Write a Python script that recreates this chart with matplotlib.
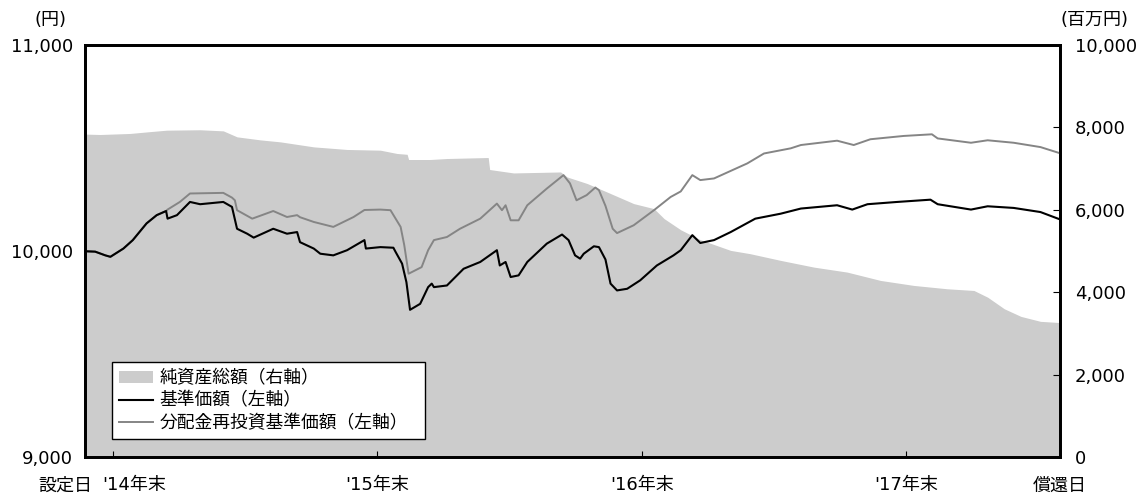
import matplotlib
matplotlib.use("Agg")
import matplotlib.pyplot as plt
import pandas as pd
from matplotlib.patches import Patch
from matplotlib.lines import Line2D
from matplotlib.transforms import blended_transform_factory, offset_copy

plt.rcParams['font.family'] = ['DejaVu Sans', 'Noto Sans CJK JP']

# 設定日・償還日
start = pd.Timestamp("2014-11-21")
end = pd.Timestamp("2018-07-30")

# 基準価額（円）: 設定日からの経過日数と値
nav_days = [0, 14, 28, 35, 53, 66, 85, 99, 112, 114, 127, 145, 159, 191, 203, 210,
            224, 233, 260, 279, 293, 297, 316, 325, 343, 362, 386, 388, 408, 426,
            429, 438, 444, 449, 463, 474, 479, 482, 500, 523, 546, 569, 573, 581,
            588, 599, 611, 638, 659, 668, 677, 684, 689, 703, 710, 719, 726, 735,
            749, 767, 790, 813, 823, 839, 850, 869, 892, 926, 961, 989, 1039, 1060,
            1081, 1122, 1168, 1178, 1224, 1247, 1283, 1320, 1348]
nav = [10000, 9998, 9980, 9973, 10013, 10054, 10135, 10175, 10195, 10158, 10175,
       10239, 10228, 10239, 10215, 10109, 10085, 10066, 10109, 10085, 10093, 10044,
       10013, 9988, 9980, 10005, 10054, 10013, 10020, 10017, 9997, 9940, 9850, 9716,
       9745, 9826, 9843, 9826, 9834, 9915, 9948, 10005, 9931, 9948, 9875, 9883,
       9948, 10037, 10081, 10054, 9980, 9964, 9988, 10024, 10020, 9960, 9843, 9810,
       9818, 9859, 9931, 9980, 10005, 10078, 10040, 10054, 10093, 10158, 10182,
       10207, 10223, 10202, 10228, 10239, 10250, 10228, 10202, 10218, 10210, 10190,
       10153]

# 分配金再投資基準価額（円）
re_days = [0, 14, 28, 35, 53, 66, 85, 99, 112, 114, 131, 145, 191, 203, 207, 210,
           231, 260, 279, 293, 297, 316, 343, 371, 386, 408, 422, 436, 441, 447,
           465, 474, 482, 500, 518, 546, 569, 576, 581, 588, 599, 611, 638, 661,
           670, 679, 693, 705, 710, 719, 729, 735, 758, 786, 809, 823, 839, 850,
           869, 915, 938, 975, 989, 1039, 1062, 1085, 1131, 1170, 1178, 1224, 1247,
           1283, 1320, 1348]
reinvest = [10000, 9998, 9980, 9973, 10013, 10054, 10135, 10175, 10195, 10202,
            10239, 10280, 10283, 10260, 10247, 10199, 10158, 10195, 10166, 10175,
            10165, 10142, 10118, 10166, 10200, 10202, 10199, 10118, 10030, 9891,
            9923, 10005, 10054, 10069, 10109, 10158, 10231, 10199, 10223, 10150,
            10150, 10223, 10304, 10369, 10329, 10247, 10272, 10309, 10296, 10220,
            10109, 10088, 10126, 10199, 10263, 10290, 10369, 10345, 10353, 10426,
            10474, 10499, 10515, 10536, 10515, 10543, 10559, 10567, 10547, 10526,
            10538, 10526, 10505, 10474]

# 純資産総額（百万円）
asset_days = [0, 21, 62, 90, 113, 159, 191, 210, 242, 270, 316, 362, 408, 431, 445,
              447, 477, 500, 557, 559, 592, 657, 666, 694, 721, 758, 786, 800, 823,
              850, 892, 919, 961, 1007, 1053, 1099, 1145, 1191, 1228, 1247, 1270,
              1293, 1320, 1348]
assets = [7840, 7830, 7855, 7900, 7935, 7945, 7918, 7773, 7700, 7651, 7530, 7467,
          7450, 7370, 7350, 7224, 7224, 7248, 7272, 6981, 6898, 6922, 6801, 6640,
          6437, 6155, 6033, 5791, 5520, 5280, 5020, 4940, 4778, 4615, 4494, 4292,
          4171, 4090, 4049, 3886, 3605, 3420, 3300, 3270]

year_ends = pd.to_datetime(["2014-12-30", "2015-12-30", "2016-12-30", "2017-12-29"])
x_labels = ["設定日", "'14年末", "'15年末", "'16年末", "'17年末", "償還日"]
left_ticks = [9000, 10000, 11000]
right_ticks = [0, 2000, 4000, 6000, 8000, 10000]

nav_x = start + pd.to_timedelta(nav_days, unit="D")
re_x = start + pd.to_timedelta(re_days, unit="D")
asset_x = start + pd.to_timedelta(asset_days, unit="D")

fig = plt.figure(figsize=(11.43, 4.95), dpi=100)
ax = fig.add_axes([0.0744, 0.0758, 0.853, 0.8333])
ax2 = ax.twinx()

ax2.fill_between(asset_x, assets, 0, color="#cccccc", lw=0)
ax2.set_ylim(0, 10000)
ax2.set_yticks(right_ticks)
ax2.set_yticklabels([f"{v:,}" for v in right_ticks])

ax.set_zorder(ax2.get_zorder() + 1)
ax.patch.set_visible(False)
ax.plot(re_x, reinvest, color="#858585", lw=1.4)
ax.plot(nav_x, nav, color="black", lw=1.5)
ax.set_ylim(9000, 11000)
ax.set_yticks(left_ticks)
ax.set_yticklabels([f"{v:,}" for v in left_ticks])
ax.set_xlim(start, end)

for a in (ax, ax2):
    for s in a.spines.values():
        s.set_linewidth(2.0)
ax.tick_params(axis="y", direction="in", length=5, width=0.8, pad=8.5, labelsize=13)
ax2.tick_params(axis="y", direction="in", length=5, width=0.8, pad=10.5, labelsize=13)
ax.set_xticks(year_ends)
ax.set_xticklabels([])
ax.tick_params(axis="x", direction="in", length=4, width=0.8)

# x軸の文字
tr = offset_copy(blended_transform_factory(ax.transData, ax.transAxes),
                 fig=fig, x=0, y=-28, units="dots")
label_x = [start, year_ends[0], year_ends[1], year_ends[2], year_ends[3], end]
shift = [-20, 21, 0, 0, 0, 0]
for xv, txt, dx in zip(label_x, x_labels, shift):
    t = offset_copy(tr, fig=fig, x=dx, y=0, units="dots")
    ax.text(xv, 0, txt, transform=t, ha="center", va="center", fontsize=13)

fig.text(51 / 1143, 1 - 20 / 495, "(円)", ha="center", va="center", fontsize=13)
fig.text(1094 / 1143, 1 - 20 / 495, "(百万円)", ha="center", va="center", fontsize=13)

handles = [Patch(facecolor="#cccccc", edgecolor="none"),
           Line2D([], [], color="black", lw=1.5),
           Line2D([], [], color="#858585", lw=1.4)]
labels = ["純資産総額（右軸）", "基準価額（左軸）", "分配金再投資基準価額（左軸）"]
leg = ax.legend(handles, labels, loc="lower left",
                bbox_to_anchor=(0.0274, 0.044, 0.3213, 0.2), mode="expand",
                borderaxespad=0, fancybox=False, edgecolor="black", framealpha=1,
                fontsize=12.8, handlelength=1.9, handletextpad=0.38,
                labelspacing=0.25, borderpad=0.4)
leg.get_frame().set_linewidth(1.0)

fig.savefig("out.png", dpi=100)
